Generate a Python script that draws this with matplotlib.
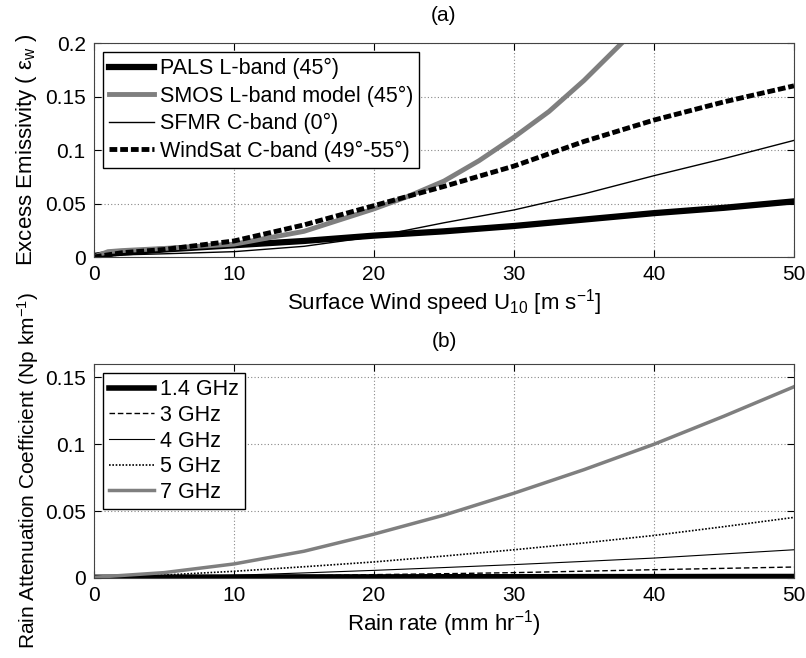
import matplotlib
matplotlib.use("Agg")
import matplotlib.pyplot as plt

plt.rcParams['font.family'] = ['Liberation Sans', 'DejaVu Sans']
plt.rcParams['mathtext.fontset'] = 'custom'
plt.rcParams['mathtext.rm'] = 'Liberation Sans'
plt.rcParams['mathtext.it'] = 'Liberation Sans'
plt.rcParams['mathtext.bf'] = 'Liberation Sans'

# (a) excess emissivity vs wind speed
u_pals = [0, 1, 2, 5, 10, 15, 20, 25, 30, 35, 40, 45, 50]
e_pals = [0.001, 0.003, 0.004, 0.007, 0.011, 0.015, 0.020, 0.024, 0.029, 0.035, 0.041, 0.046, 0.052]

u_smos = [0, 1, 2, 5, 10, 15, 20, 22.5, 25, 27.5, 30, 32.5, 35, 37.7]
e_smos = [0.0, 0.005, 0.006, 0.008, 0.012, 0.024, 0.045, 0.057, 0.071, 0.090, 0.112, 0.136, 0.165, 0.2]

u_sfmr = [0, 1, 2, 5, 10, 15, 20, 25, 30, 35, 40, 45, 50]
e_sfmr = [0.0, 0.001, 0.002, 0.003, 0.005, 0.010, 0.019, 0.032, 0.044, 0.059, 0.076, 0.092, 0.109]

u_wsat = [0, 1, 2, 5, 10, 15, 20, 25, 30, 35, 40, 45, 50]
e_wsat = [0.0, 0.002, 0.004, 0.007, 0.015, 0.030, 0.048, 0.066, 0.085, 0.108, 0.128, 0.145, 0.160]

# (b) rain attenuation vs rain rate
rr = [0, 5, 10, 15, 20, 25, 30, 35, 40, 45, 50]
k_14 = [0.0005, 0.0006, 0.0007, 0.0008, 0.0008, 0.0009, 0.0009, 0.0010, 0.0010, 0.0011, 0.0011]
k_3 = [0.0, 0.0003, 0.0007, 0.0016, 0.0025, 0.0032, 0.0040, 0.0051, 0.0062, 0.0072, 0.0082]
k_4 = [0.0, 0.0009, 0.0020, 0.0038, 0.0057, 0.0078, 0.0100, 0.0124, 0.0149, 0.0180, 0.0211]
k_5 = [0.0, 0.0022, 0.0050, 0.0084, 0.0120, 0.0164, 0.0211, 0.0262, 0.0318, 0.0384, 0.0453]
k_7 = [0.0005, 0.0040, 0.0105, 0.0200, 0.0328, 0.0470, 0.0634, 0.0810, 0.1000, 0.1210, 0.1430]

gray = '#7f7f7f'
lab_fs = 16
leg_kw = dict(loc='upper left', fontsize=15.5, handlelength=2.1, handletextpad=0.25,
              borderpad=0.3, borderaxespad=0.4, fancybox=False,
              edgecolor='black', framealpha=1)

fig = plt.figure(figsize=(8.06, 6.58), dpi=100)
ax1 = fig.add_axes([0.1166, 0.6094, 0.8685, 0.3252])
ax2 = fig.add_axes([0.1166, 0.1216, 0.8685, 0.3252])

ax1.plot(u_pals, e_pals, color='black', lw=4.5, label='PALS L-band (45°)')
ax1.plot(u_smos, e_smos, color=gray, lw=3.5, label='SMOS L-band model (45°)')
ax1.plot(u_sfmr, e_sfmr, color='black', lw=1.0, label='SFMR C-band (0°)')
ax1.plot(u_wsat, e_wsat, color='black', lw=3.5, ls=(0, (1.6, 0.6)),
         label='WindSat C-band (49°-55°)')
ax1.set_xlim(0, 50)
ax1.set_ylim(0, 0.2)
ax1.set_yticks([0, 0.05, 0.1, 0.15, 0.2])
ax1.set_yticklabels(['0', '0.05', '0.1', '0.15', '0.2'])
ax1.set_xlabel(r'Surface Wind speed U$_{10}$ [m s$^{-1}$]', fontsize=lab_fs, labelpad=2)
ax1.set_ylabel(r'Excess Emissivity ( $\varepsilon_{w}$ )', fontsize=lab_fs, labelpad=4)
ax1.set_title('(a)', fontsize=15, pad=16)
ax1.legend(labelspacing=0.3, **leg_kw)

ax2.plot(rr, k_14, color='black', lw=4.0, label='1.4 GHz')
ax2.plot(rr, k_3, color='black', lw=1.0, ls=(0, (4, 2)), label='3 GHz')
ax2.plot(rr, k_4, color='black', lw=0.8, label='4 GHz')
ax2.plot(rr, k_5, color='black', lw=1.2, ls=(0, (1, 1)), label='5 GHz')
ax2.plot(rr, k_7, color=gray, lw=2.5, label='7 GHz')
ax2.set_xlim(0, 50)
ax2.set_ylim(0, 0.16)
ax2.set_yticks([0, 0.05, 0.1, 0.15])
ax2.set_yticklabels(['0', '0.05', '0.1', '0.15'])
ax2.set_xlabel(r'Rain rate (mm hr$^{-1}$)', fontsize=lab_fs, labelpad=2)
ax2.set_ylabel(r'Rain Attenuation Coefficient (Np km$^{-1}$)', fontsize=15, labelpad=3)
ax2.set_title('(b)', fontsize=15, pad=12)
ax2.legend(labelspacing=0.22, **leg_kw)

for ax in (ax1, ax2):
    ax.set_xticks([0, 10, 20, 30, 40, 50])
    ax.grid(True, color='#888888', ls=(0, (1, 2)), lw=0.8)
    ax.tick_params(direction='in', top=True, right=True, labelsize=15, length=5, pad=6)
    for s in ax.spines.values():
        s.set_color('#444444')
        s.set_linewidth(0.8)

fig.savefig('out.png', dpi=100)
